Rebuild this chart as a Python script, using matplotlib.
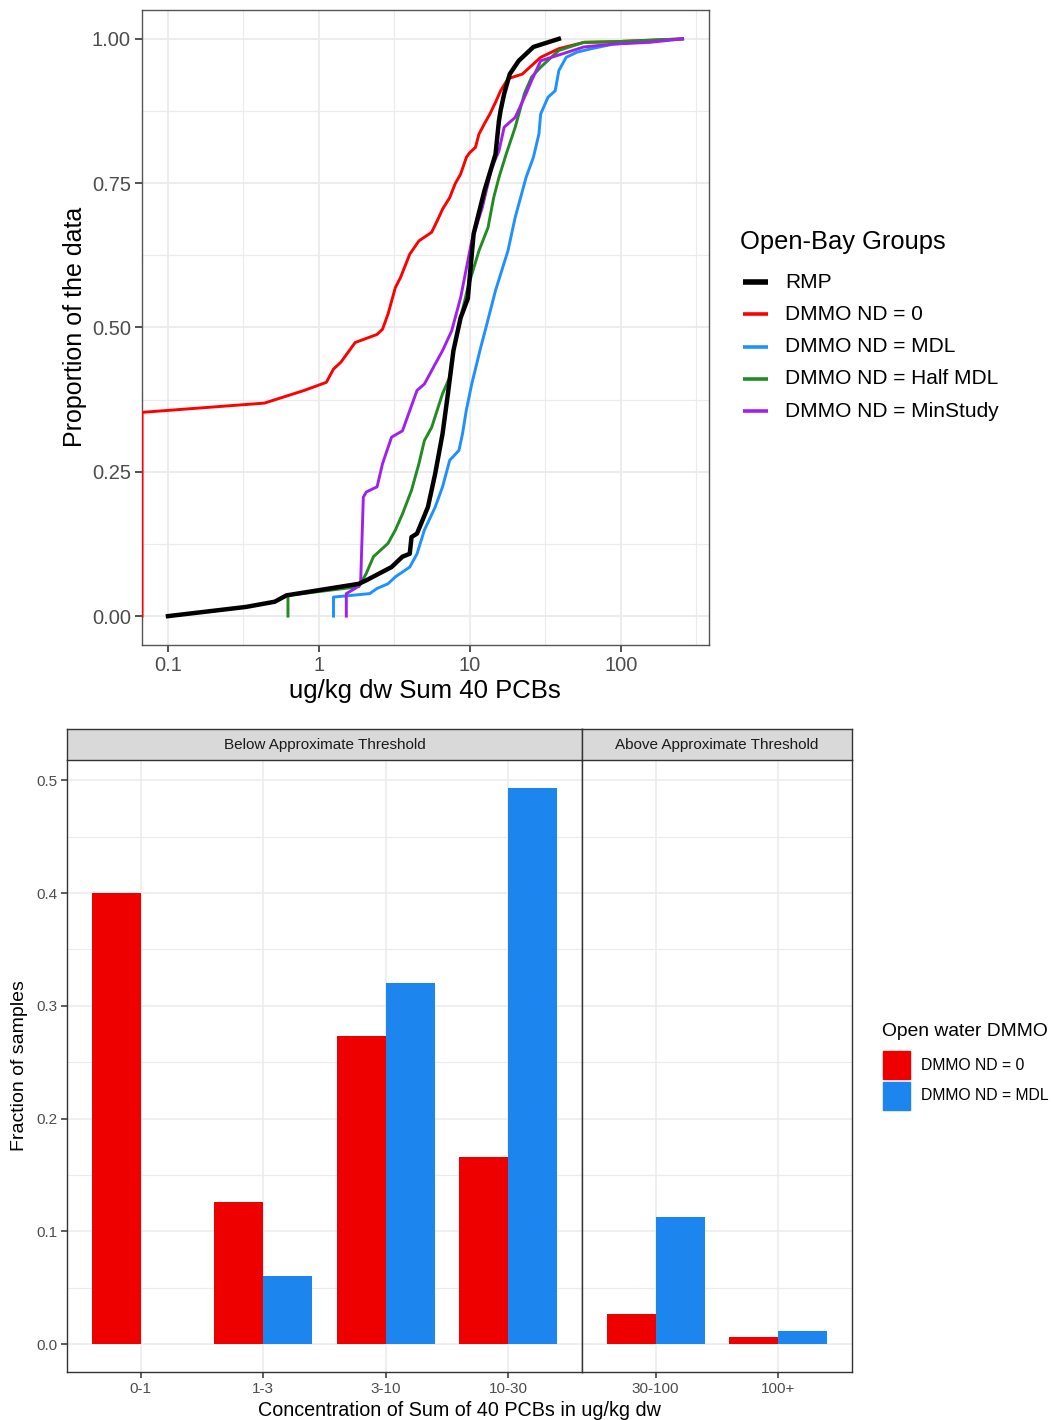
import numpy as np
import matplotlib
matplotlib.use("Agg")
import matplotlib.pyplot as plt
from matplotlib.lines import Line2D
from matplotlib.patches import Rectangle
from matplotlib.ticker import FixedLocator, NullFormatter

plt.rcParams['font.family'] = ['Liberation Sans', 'DejaVu Sans']

# ---- top panel: ECDF curves (concentration ug/kg dw, cumulative proportion) ----
rmp_x = [0.1, 0.33, 0.51, 0.61, 1.84, 2.06, 3.03, 3.58, 4.0, 4.11, 4.47, 5.28, 5.9,
         6.6, 7.16, 7.79, 8.7, 9.7, 10.6, 12.5, 14.8, 15.6, 16.0, 16.9, 18.4, 21.1,
         23.6, 26.4, 38.9]
rmp_y = [0.0, 0.016, 0.025, 0.036, 0.056, 0.062, 0.085, 0.103, 0.108, 0.137, 0.143,
         0.189, 0.247, 0.316, 0.385, 0.46, 0.517, 0.55, 0.662, 0.737, 0.80, 0.858,
         0.876, 0.905, 0.939, 0.962, 0.974, 0.986, 1.0]

nd0_x = [0, 0, 0.435, 0.486, 0.80, 1.12, 1.25, 1.40, 1.74, 2.43, 2.64, 2.87, 3.21,
         3.48, 4.0, 4.6, 5.59, 6.24, 6.6, 7.36, 8.0, 8.7, 9.5, 10.0, 10.9, 11.5,
         12.5, 13.6, 14.8, 16.0, 17.9, 22.3, 25.0, 29.5, 38.9, 51.4, 57.4, 90, 257]
nd0_y = [0.0, 0.353, 0.369, 0.373, 0.391, 0.405, 0.428, 0.44, 0.474, 0.488, 0.497,
         0.523, 0.569, 0.587, 0.627, 0.65, 0.665, 0.691, 0.705, 0.725, 0.749, 0.766,
         0.795, 0.803, 0.812, 0.835, 0.853, 0.87, 0.89, 0.91, 0.931, 0.939, 0.951,
         0.968, 0.983, 0.991, 0.994, 0.995, 1.0]

mdl_x = [1.25, 1.25, 2.17, 2.43, 2.87, 3.21, 4.0, 4.47, 5.0, 5.9, 6.6, 7.36, 8.47,
         8.95, 9.47, 10.3, 11.8, 12.8, 14.8, 17.9, 20.0, 23.6, 26.4, 28.7, 29.5,
         33.0, 36.8, 38.9, 43.5, 51.4, 64, 89.5, 257]
mdl_y = [0.0, 0.033, 0.039, 0.048, 0.056, 0.068, 0.085, 0.108, 0.149, 0.189, 0.224,
         0.27, 0.287, 0.316, 0.356, 0.402, 0.465, 0.5, 0.564, 0.633, 0.691, 0.76,
         0.795, 0.835, 0.87, 0.899, 0.91, 0.945, 0.968, 0.977, 0.983, 0.991, 1.0]

half_x = [0.624, 0.624, 1.84, 2.06, 2.30, 2.87, 3.21, 3.58, 4.11, 4.6, 5.0, 5.59,
          6.59, 7.36, 7.79, 8.7, 9.7, 11.5, 13.2, 14.4, 15.6, 17.4, 20.0, 23.0,
          25.7, 29.5, 38.9, 57, 89.5, 257]
half_y = [0.0, 0.036, 0.051, 0.074, 0.103, 0.126, 0.149, 0.177, 0.218, 0.264, 0.304,
          0.327, 0.385, 0.414, 0.46, 0.517, 0.569, 0.633, 0.673, 0.725, 0.76, 0.80,
          0.847, 0.905, 0.934, 0.951, 0.98, 0.994, 0.995, 1.0]

minst_x = [1.52, 1.52, 1.74, 1.89, 1.97, 2.06, 2.43, 2.64, 3.03, 3.58, 4.0, 4.47,
           5.0, 5.74, 6.6, 7.58, 8.7, 10.3, 12.1, 14.0, 15.6, 16.9, 20.0, 23.6,
           25.7, 29.5, 41, 57, 89.5, 156, 257]
minst_y = [0.0, 0.039, 0.048, 0.056, 0.206, 0.215, 0.224, 0.264, 0.31, 0.321, 0.356,
           0.391, 0.402, 0.431, 0.46, 0.494, 0.552, 0.65, 0.708, 0.777, 0.806, 0.847,
           0.864, 0.905, 0.928, 0.962, 0.974, 0.986, 0.991, 0.994, 1.0]

group_names = ["RMP", "DMMO ND = 0", "DMMO ND = MDL", "DMMO ND = Half MDL", "DMMO ND = MinStudy"]
group_colors = ["black", "#FF0000", "#1E90FF", "#228B22", "#A020F0"]

# ---- bottom panel: fraction of samples by concentration bin ----
bins_below = ["0-1", "1-3", "3-10", "10-30"]
bins_above = ["30-100", "100+"]
frac_nd0_below = [0.400, 0.126, 0.273, 0.166]
frac_mdl_below = [0.0, 0.060, 0.320, 0.493]
frac_nd0_above = [0.027, 0.006]
frac_mdl_above = [0.113, 0.012]
bar_colors = ["#EE0000", "#1C86EE"]
bar_names = ["DMMO ND = 0", "DMMO ND = MDL"]

W, H = 1052, 1420
fig = plt.figure(figsize=(W / 100, H / 100), dpi=100)


def box(x0, y0, x1, y1):
    return [x0 / W, 1 - y1 / H, (x1 - x0) / W, (y1 - y0) / H]


tick_col = "#4D4D4D"
grid_col = "#EBEBEB"

# ================= top ECDF =================
ax = fig.add_axes(box(142, 10, 709, 645))
ax.set_xscale("log")
xmin, xmax = 10 ** -1.172, 10 ** 2.585
ax.set_xlim(xmin, xmax)
ax.set_ylim(-0.05, 1.05)

series = [(rmp_x, rmp_y), (nd0_x, nd0_y), (mdl_x, mdl_y), (half_x, half_y), (minst_x, minst_y)]
widths = [3.2, 2.1, 2.1, 2.1, 2.1]
order = [1, 2, 3, 4, 0]
for i in order:
    xs = np.array(series[i][0], dtype=float)
    xs = np.where(xs <= 0, xmin, xs)  # zeros sit on the panel edge
    ax.plot(xs, series[i][1], color=group_colors[i], lw=widths[i], zorder=3,
            solid_joinstyle="round")

ax.xaxis.set_major_locator(FixedLocator([0.1, 1, 10, 100]))
ax.set_xticklabels(["0.1", "1", "10", "100"])
ax.xaxis.set_minor_locator(FixedLocator([10 ** -0.5, 10 ** 0.5, 10 ** 1.5, 10 ** 2.5]))
ax.xaxis.set_minor_formatter(NullFormatter())
ax.set_yticks([0, 0.25, 0.5, 0.75, 1.0])
ax.set_yticklabels(["0.00", "0.25", "0.50", "0.75", "1.00"])
ax.yaxis.set_minor_locator(FixedLocator([0.125, 0.375, 0.625, 0.875]))
ax.grid(True, which="major", color=grid_col, lw=1.3, zorder=0)
ax.grid(True, which="minor", color=grid_col, lw=0.8, zorder=0)
ax.set_axisbelow(True)
ax.tick_params(which="major", length=5, width=1.2, color="#333333",
               labelsize=14.5, labelcolor=tick_col, pad=3)
ax.tick_params(which="minor", length=0)
for s in ax.spines.values():
    s.set_color("#555555")
    s.set_linewidth(1.0)

fig.text(75 / W, 1 - 327 / H, "Proportion of the data", rotation=90,
         ha="center", va="center", fontsize=18)
fig.text(425 / W, 1 - 691 / H, "ug/kg dw Sum 40 PCBs", ha="center", va="center",
         fontsize=18.5)

# legend (top)
fig.text(740 / W, 1 - 242 / H, "Open-Bay Groups", ha="left", va="center", fontsize=18.4)
for k, name in enumerate(group_names):
    yy = 1 - (282 + 32.3 * k) / H
    fig.add_artist(Line2D([743 / W, 768 / W], [yy, yy], color=group_colors[k],
                          lw=4.0 if k == 0 else 2.6, solid_capstyle="butt"))
    fig.text(785 / W, yy, name, ha="left", va="center", fontsize=15)

# ================= bottom bars =================
ax1 = fig.add_axes(box(67, 760, 582, 1372))
ax2 = fig.add_axes(box(582, 760, 852, 1372))
bw = 0.4
panels = [(ax1, bins_below, frac_nd0_below, frac_mdl_below),
          (ax2, bins_above, frac_nd0_above, frac_mdl_above)]
for a, cats, v0, v1 in panels:
    pos = np.arange(len(cats))
    a.bar(pos - bw / 2, v0, width=bw, color=bar_colors[0], zorder=3)
    a.bar(pos + bw / 2, v1, width=bw, color=bar_colors[1], zorder=3)
    a.set_xlim(-0.6, len(cats) - 0.4)
    a.set_ylim(-0.0247, 0.518)
    a.set_xticks(pos)
    a.set_xticklabels(cats)
    a.set_yticks([0, 0.1, 0.2, 0.3, 0.4, 0.5])
    a.yaxis.set_minor_locator(FixedLocator([0.05, 0.15, 0.25, 0.35, 0.45]))
    a.grid(True, which="major", color=grid_col, lw=1.1, zorder=0)
    a.grid(True, which="minor", axis="y", color=grid_col, lw=0.8, zorder=0)
    a.set_axisbelow(True)
    a.tick_params(which="major", length=4, width=1.1, color="#333333",
                  labelsize=11, labelcolor=tick_col, pad=3)
    a.tick_params(which="minor", length=0)
    for s in a.spines.values():
        s.set_color("#333333")
        s.set_linewidth(1.0)
    a.spines["top"].set_visible(False)

ax1.set_yticklabels(["0.0", "0.1", "0.2", "0.3", "0.4", "0.5"])
ax2.tick_params(axis="y", which="both", left=False, labelleft=False)

# facet strips
for (x0, x1, label) in [(67, 582, "Below Approximate Threshold"),
                        (582, 852, "Above Approximate Threshold")]:
    sa = fig.add_axes(box(x0, 729, x1, 760))
    sa.set_facecolor("#D9D9D9")
    sa.set_xticks([])
    sa.set_yticks([])
    for s in sa.spines.values():
        s.set_color("#333333")
        s.set_linewidth(1.0)
    sa.text(0.5, 0.5, label, transform=sa.transAxes, ha="center", va="center",
            fontsize=11, color="#1A1A1A")

fig.text(20 / W, 1 - 1066 / H, "Fraction of samples", rotation=90,
         ha="center", va="center", fontsize=14)
fig.text(459 / W, 1 - 1410 / H, "Concentration of Sum of 40 PCBs in ug/kg dw",
         ha="center", va="center", fontsize=14.2)

# legend (bottom)
fig.text(882 / W, 1 - 1032 / H, "Open water DMMO", ha="left", va="center", fontsize=13.9)
for k, name in enumerate(bar_names):
    top = 1051 + 31 * k
    fig.add_artist(Rectangle((883 / W, 1 - (top + 28) / H), 27 / W, 28 / H,
                             transform=fig.transFigure, color=bar_colors[k]))
    fig.text(921 / W, 1 - (top + 14) / H, name, ha="left", va="center", fontsize=11.3)

fig.savefig("out.png", dpi=100)
